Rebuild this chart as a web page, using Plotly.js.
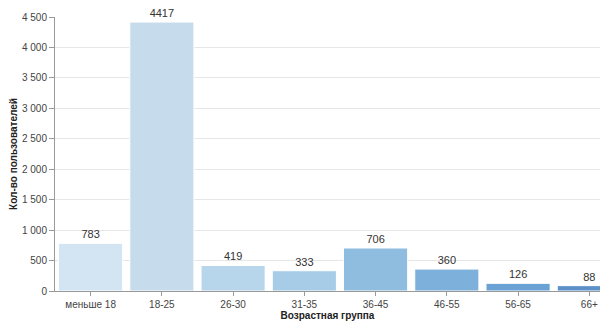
<!DOCTYPE html>
<html><head><meta charset="utf-8">
<script src="https://cdn.plot.ly/plotly-3.0.1.min.js"></script>
<style>html,body{margin:0;padding:0;background:#fff}#chart{width:600px;height:321px}</style>
</head><body><div id="chart"></div>
<script>
const categories = ["меньше 18","18-25","26-30","31-35","36-45","46-55","56-65","66+"];
const users = [783, 4417, 419, 333, 706, 360, 126, 88];
const barColors = ["#d3e4f3","#c6dcec","#b8d6eb","#a6cce8","#8fbde0","#7db0db","#6aa2d5","#5b90c8"];
const yTicks = [0,500,1000,1500,2000,2500,3000,3500,4000,4500];

Plotly.newPlot("chart", [{
  type: "bar",
  x: categories,
  y: users,
  text: users.map(String),
  textposition: "outside",
  cliponaxis: false,
  textfont: {family: "Liberation Sans, Arial, sans-serif", size: 11, color: "#333"},
  marker: {color: barColors, line: {color: "#ffffff", width: 1}},
  hoverinfo: "none"
}], {
  width: 600, height: 321,
  margin: {l: 55, r: 0, t: 17, b: 30},
  separators: ", ",
  bargap: 0.1,
  showlegend: false,
  plot_bgcolor: "#fff", paper_bgcolor: "#fff",
  font: {family: "Liberation Sans, Arial, sans-serif", size: 10, color: "#444"},
  xaxis: {
    type: "category",
    range: [-0.5, 7.15],
    showgrid: false,
    showline: true, linecolor: "#999", linewidth: 1,
    ticks: "outside", ticklen: 4, tickcolor: "#999",
    tickfont: {size: 10, color: "#444"},
    title: {text: "Возрастная группа", font: {size: 10, color: "#222", weight: "bold"}, standoff: 3}
  },
  yaxis: {
    range: [0, 4500],
    tickvals: yTicks,
    tickformat: ",d",
    showgrid: true, gridcolor: "#e6e6e6", gridwidth: 1,
    zeroline: false,
    showline: true, linecolor: "#999", linewidth: 1,
    ticks: "outside", ticklen: 5, tickcolor: "#999",
    tickfont: {size: 10, color: "#444"},
    title: {text: "Кол-во пользователей", font: {size: 10, color: "#222", weight: "bold"}, standoff: 2}
  }
}, {staticPlot: true});
</script></body></html>
